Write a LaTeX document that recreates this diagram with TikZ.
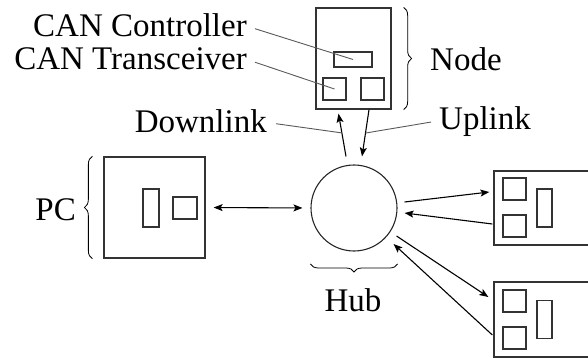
\documentclass[tikz,border=0pt]{standalone}
\usepackage{fontspec}
\setmainfont{Liberation Serif}
\usetikzlibrary{arrows.meta,decorations.pathreplacing,calc}
\begin{document}
\begin{tikzpicture}[x=1pt,y=-1pt,
  box/.style={draw=black!80,line width=1.3pt,inner sep=0pt,rectangle},
  part/.style={draw=black!80,line width=1.1pt,inner sep=0pt,rectangle},
  lbl/.style={inner sep=0pt,font=\fontsize{33}{36}\selectfont},
  lead/.style={draw=black!65,line width=0.9pt},
  arr/.style={line width=1.1pt,-{Stealth[length=9pt,width=7pt,inset=2pt]}},
  brc/.style={decorate,decoration={brace,amplitude=8pt},line width=0.8pt}]
\useasboundingbox (0,0) rectangle (588,358);
\clip (0,0) rectangle (588,358);
% top node
\node[box,minimum width=75pt,minimum height=101pt] (nb) at (353.5,58.5) {};
\node[part,minimum width=38pt,minimum height=15pt] (ctl) at (353,59.5) {};
\node[part,minimum width=23pt,minimum height=22pt] (trl) at (334.5,89) {};
\node[part,minimum width=23pt,minimum height=22pt] (trr) at (372.5,89) {};
% PC
\node[box,minimum width=101pt,minimum height=101pt] (pc) at (154.5,207.5) {};
\node[part,minimum width=16pt,minimum height=38pt] (pct) at (151,208) {};
\node[part,minimum width=24pt,minimum height=22pt] (pcs) at (185,208) {};
% hub
\node[draw=black!85,line width=1.1pt,circle,minimum size=86pt,inner sep=0pt] (hub) at (354,208) {};
% right boxes
\node[box,minimum width=120pt,minimum height=74pt] (ba) at (554,208) {};
\node[part,minimum width=23pt,minimum height=22pt] (ba1) at (514.5,189) {};
\node[part,minimum width=23pt,minimum height=22pt] (ba2) at (514.5,226) {};
\node[part,minimum width=15pt,minimum height=38pt] (bat) at (544.5,208) {};
\node[box,minimum width=120pt,minimum height=75pt] (bb) at (554,319.5) {};
\node[part,minimum width=23pt,minimum height=22pt] (bb1) at (514.5,301) {};
\node[part,minimum width=23pt,minimum height=22pt] (bb2) at (514.5,338) {};
\node[part,minimum width=15pt,minimum height=38pt] (bbt) at (544.5,319.5) {};
% texts
\node[lbl,anchor=base east] (tctl) at (247,37) {CAN Controller};
\node[lbl,anchor=base east] (ttr) at (247,70) {CAN Transceiver};
\node[lbl,anchor=base east] (tdown) at (267,133) {Downlink};
\node[lbl,anchor=base west] (tnode) at (430,71) {Node};
\node[lbl,anchor=base west] (tup) at (439,130) {Uplink};
\node[lbl,anchor=base east] (tpc) at (76,220) {PC};
\node[lbl,anchor=base] (thub) at (353,311) {Hub};
% braces
\draw[brc] ($(nb.north east)+(12,0)$) -- ($(nb.south east)+(12,0)$);
\draw[brc] ($(pc.south west)+(-11,0)$) -- ($(pc.north west)+(-11,0)$);
\draw[brc] ($(hub.east)+(0,56)$) -- ($(hub.west)+(0,56)$);
% arrows
\coordinate (dl1) at ([xshift=-8pt,yshift=8pt]hub.north);
\coordinate (dl2) at ([xshift=-15pt,yshift=-4pt]nb.south);
\coordinate (ul1) at ([xshift=15.5pt]nb.south);
\coordinate (ul2) at ([xshift=8pt,yshift=8pt]hub.north);
\draw[arr] (dl1) -- (dl2);
\draw[arr] (ul1) -- (ul2);
\draw[arr,{Stealth[length=9pt,width=7pt,inset=2pt]}-{Stealth[length=9pt,width=7pt,inset=2pt]},shorten <=8pt,shorten >=8pt] (pc.east) -- (hub.west);
\draw[arr] ([xshift=7pt,yshift=6pt]hub.east) -- ([xshift=-4pt,yshift=16pt]ba.west);
\draw[arr] ([xshift=-1pt,yshift=-16pt]ba.west) -- ([xshift=7pt,yshift=-5pt]hub.east);
\draw[arr] ([xshift=-1pt,yshift=-28pt]hub.east) -- ([xshift=-5pt,yshift=22.5pt]bb.west);
\draw[arr] ([xshift=-1pt,yshift=-15.5pt]bb.west) -- ([xshift=-4pt,yshift=-36pt]hub.east);
% leader lines
\draw[lead] ([xshift=8pt,yshift=-3pt]tctl.east) -- (ctl.center);
\draw[lead] ([xshift=8pt,yshift=-3pt]ttr.east) -- (trl.center);
\draw[lead] ([xshift=9pt,yshift=-2pt]tdown.east) -- ($(dl1)!0.55!(dl2)$);
\draw[lead] ([xshift=-8pt,yshift=0pt]tup.west) -- ($(ul1)!0.5!(ul2)$);
\end{tikzpicture}
\end{document}
